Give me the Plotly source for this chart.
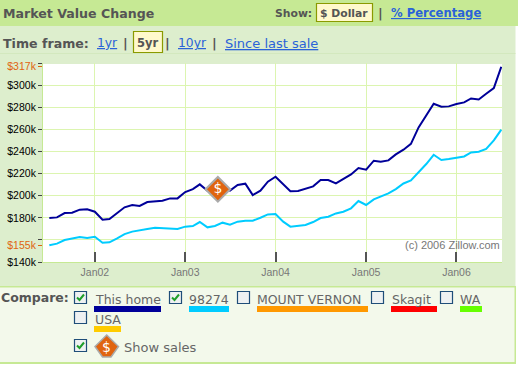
import pandas as pd
import plotly.graph_objects as go

W, H = 518, 366
dates = pd.date_range("2001-07-01", "2006-07-01", freq="MS")
home_values = [179.8,180.4,184.3,184.6,187.4,187.7,185.5,178.3,178.9,184.0,189.5,191.6,190.7,194.3,194.9,195.5,
               197.6,197.6,203.3,206.0,210.3,204.6,205.0,206.7,204.6,209.7,210.9,200.6,204.6,212.7,217.2,210.6,
               204.0,204.3,206.4,208.5,214.2,214.2,211.2,215.1,219.3,225.1,223.6,231.7,230.8,232.0,237.4,241.7,
               247.0,261.9,272.4,283.3,280.6,280.9,283.0,284.5,288.1,287.2,292.3,297.5,316.8]
zip_values = [155.1,156.6,159.9,161.4,162.6,161.7,162.9,157.5,157.8,161.4,165.3,167.5,169.0,169.9,171.1,170.8,
              170.8,169.9,172.0,172.6,176.2,171.4,172.6,175.6,173.8,176.5,177.4,177.4,180.1,183.1,183.4,176.5,
              172.0,172.6,173.5,176.2,179.8,181.0,184.0,185.5,188.6,195.2,191.6,196.7,199.1,202.1,206.0,211.1,
              213.8,220.8,228.7,237.1,232.3,233.2,234.7,235.6,239.2,239.8,242.3,250.1,259.8]
sale_date = ["2003-05-13"]
sale_value = [205.8]
y_ticks = [140,160,180,200,220,240,260,280,300,320]
y_labels = ["$140k","","$180k","$200k","$220k","$240k","$260k","$280k","$300k",""]
marker_ticks = [155,317]
marker_labels = ["$155k","$317k"]
x_ticks = ["2002-01-01","2003-01-01","2004-01-01","2005-01-01","2006-01-01"]
x_labels = ["Jan02","Jan03","Jan04","Jan05","Jan06"]

HEAD, BODY, PANEL = "#C6E994", "#DDEECD", "#F3F9EB"
BLUE, DARK, GREY = "#2A62D8", "#555555", "#6E6E6E"
ORANGE = "#E0640F"
VERD, ARIAL = "DejaVu Sans", "Liberation Sans"

def px(x): return x / W
def py(y): return 1 - y / H

shapes, notes = [], []
def rect(x0, y0, x1, y1, fill, line=None, lw=1):
    shapes.append(dict(type="rect", xref="paper", yref="paper", x0=px(x0), x1=px(x1), y0=py(y0), y1=py(y1),
                       fillcolor=fill, line=dict(color=line or fill, width=lw if line else 0), layer="below"))
def path(points, fill=None, line=None, lw=1):
    d = "M" + " L".join(f"{px(a):.5f},{py(b):.5f}" for a, b in points) + (" Z" if fill else "")
    shapes.append(dict(type="path", xref="paper", yref="paper", path=d, fillcolor=fill or "rgba(0,0,0,0)",
                       line=dict(color=line or fill, width=lw), layer="above"))
def text(x, y, s, size=11, color=DARK, font=VERD, anchor="left"):
    notes.append(dict(xref="paper", yref="paper", x=px(x), y=py(y), text=s, showarrow=False, xanchor=anchor,
                      yanchor="middle", xshift=0, borderpad=0, borderwidth=0, align="left",
                      font=dict(family=font, size=size, color=color)))

# page panels
rect(0, 0, 518, 26, HEAD)
rect(0, 26, 515.5, 287, BODY)
rect(0, 53, 515.5, 54, "#D3E8BE")
rect(0, 286, 516, 364, HEAD)
rect(0, 287.5, 514.5, 362, PANEL)
rect(43, 64, 502, 262, "#FFFFFF")

# header
text(2.5, 13.5, "<b>Market Value Change</b>", 12.6)
text(274.5, 13, "<b>Show:</b>", 10.8)
rect(316.5, 3.5, 372.5, 21.5, "#FFF9CC", "#8A9A00", 1.2)
text(319.5, 13, "<b>$ Dollar</b>", 10.8)
text(377.5, 13, "<b>|</b>", 13)
text(390.5, 13, "<b><u>% Percentage</u></b>", 11.6, BLUE)
# time frame row
text(2.5, 43, "<b>Time frame:</b>", 12.6)
text(97, 43, "<u>1yr</u>", 12.3, BLUE)
text(122.5, 43, "<b>|</b>", 13)
rect(133.5, 31.5, 162.5, 52.5, "#FFF9CC", "#8A9A00", 1.2)
text(137, 43, "<b>5yr</b>", 11.5)
text(164.5, 43, "<b>|</b>", 13)
text(178, 43, "<u>10yr</u>", 12.3, BLUE)
text(211.5, 43, "<b>|</b>", 13)
text(225, 43, "<u>Since last sale</u>", 13, BLUE)

# compare panel
text(1, 297, "<b>Compare:</b>", 12.5)
def checkbox(x, y, checked):
    rect(x + .5, y + .5, x + 12.5, y + 12.5, "#EEF1F2", "#1F4E79", 1.2)
    if checked:
        path([(x + 3, y + 6.5), (x + 5.5, y + 9), (x + 10, y + 3.5)], line="#1E9E2A", lw=2)
for cx, cy, on in [(74, 291, True), (169, 291, True), (237, 291, False), (371, 291, False), (440, 291, False),
                   (74, 311, False), (74, 339, True)]:
    checkbox(cx, cy, on)
for lx, ly, s in [(94.5, 299, "This home"), (189, 299, "98274"), (257, 299, "MOUNT VERNON"), (391.5, 299, "Skagit"),
                  (460, 299, "WA"), (94.5, 319, "USA")]:
    text(lx, ly, s, 12.5, "#666666")
text(124, 347, "Show sales", 13, "#666666")
for x0, x1, y0, c in [(94, 161, 306, "#000099"), (189, 229, 306, "#00CCFF"), (257, 368, 306, "#FF9900"),
                      (391, 437, 306, "#FF0000"), (460, 482, 306, "#66FF00"), (94, 121, 326, "#FFCC00")]:
    rect(x0, y0, x1, y0 + 6, c)
path([(106.7, 335), (118.5, 346.5), (111, 357), (102.5, 357), (95, 346.5)], fill=ORANGE, line="#AAAAAA", lw=1.5)
text(106.7, 347, "$", 14, "#FFFFFF", anchor="center")

# chart
text(500, 245, "(c) 2006 Zillow.com", 11, "#777777", ARIAL, "right")

fig = go.Figure()
fig.add_trace(go.Scatter(x=dates, y=zip_values, mode="lines", line=dict(color="#00CCFF", width=2), name="98274"))
fig.add_trace(go.Scatter(x=dates, y=home_values, mode="lines", line=dict(color="#000099", width=2), name="This home"))
fig.add_trace(go.Scatter(x=sale_date, y=sale_value, mode="markers+text", text=["$"], textposition="middle center",
                         textfont=dict(family=VERD, size=14, color="#FFFFFF"),
                         marker=dict(symbol="diamond", size=19, color=ORANGE, line=dict(color="#AAAAAA", width=2)),
                         name="Sale", cliponaxis=False))
# invisible trace that keeps the secondary axis (orange ticks) active
fig.add_trace(go.Scatter(x=sale_date, y=sale_value, yaxis="y2", mode="markers", marker=dict(opacity=0),
                         hoverinfo="skip", name=""))

fig.update_layout(
    width=W, height=H, autosize=False, margin=dict(l=0, r=0, t=0, b=0, pad=0),
    paper_bgcolor="#FFFFFF", plot_bgcolor="#FFFFFF", showlegend=False,
    shapes=shapes, annotations=notes,
    xaxis=dict(type="date", domain=[px(43), px(502)], range=["2001-06-05 12:00", "2006-07-04"], automargin=False,
               tickvals=x_ticks, ticktext=x_labels, ticks="inside", ticklen=10, tickwidth=2, tickcolor="#555555",
               tickfont=dict(family=ARIAL, size=10.5, color="#777777"), showgrid=True, gridcolor="#DCF5B0",
               gridwidth=1, showline=True, linecolor=HEAD, linewidth=1, zeroline=False),
    yaxis=dict(domain=[py(262), py(63.2)], range=[140, 320], tickvals=y_ticks, ticktext=y_labels, ticks="outside",
               automargin=False, ticklen=4, tickwidth=1, tickcolor="#444444",
               tickfont=dict(family=ARIAL, size=10.5, color="#000000"),
               showgrid=True, gridcolor="#DCF5B0", gridwidth=1, showline=True, linecolor=HEAD, linewidth=1,
               zeroline=False),
    yaxis2=dict(overlaying="y", side="left", anchor="x", range=[140, 320], tickvals=marker_ticks, automargin=False,
                ticktext=marker_labels, ticks="outside", ticklen=4, tickwidth=1, tickcolor=ORANGE,
                tickfont=dict(family=ARIAL, size=10.5, color=ORANGE), showgrid=False, zeroline=False, showline=False),
)
fig.write_html("out.html", config=dict(displayModeBar=False),
               post_script="document.body.style.margin='0';document.body.style.overflow='hidden';")
